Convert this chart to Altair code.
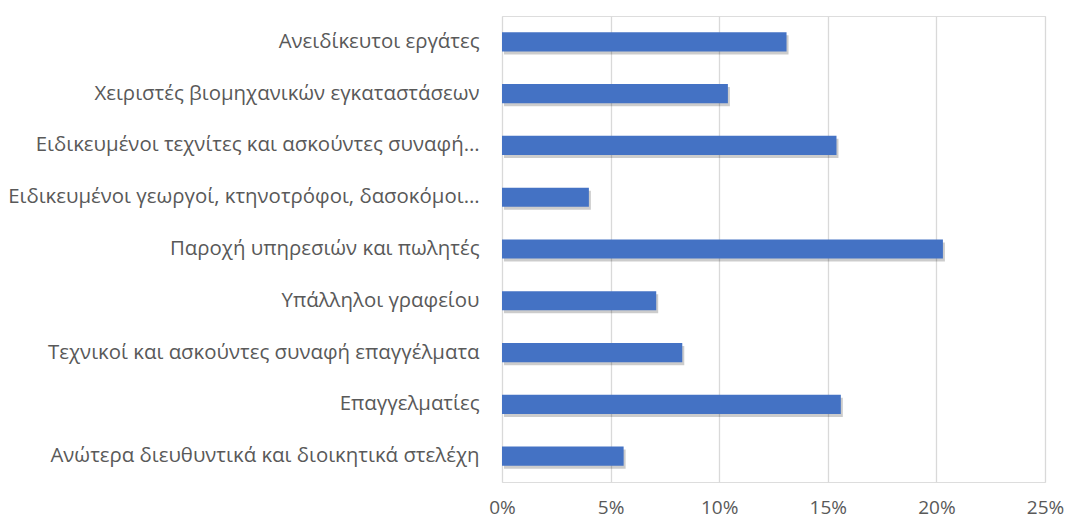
import altair as alt
import pandas as pd

categories = [
    "Ανειδίκευτοι εργάτες",
    "Χειριστές βιομηχανικών εγκαταστάσεων",
    "Ειδικευμένοι τεχνίτες και ασκούντες συναφή…",
    "Ειδικευμένοι γεωργοί, κτηνοτρόφοι, δασοκόμοι…",
    "Παροχή υπηρεσιών και πωλητές",
    "Υπάλληλοι γραφείου",
    "Τεχνικοί και ασκούντες συναφή επαγγέλματα",
    "Επαγγελματίες",
    "Ανώτερα διευθυντικά και διοικητικά στελέχη",
]
values = [0.131, 0.104, 0.154, 0.040, 0.203, 0.071, 0.083, 0.156, 0.056]
x_ticks = [0, 0.05, 0.10, 0.15, 0.20, 0.25]

df = pd.DataFrame({"cat": categories, "val": values})

FONT = "Open Sans"
x = alt.X("val:Q", scale=alt.Scale(domain=[0, 0.25], nice=False),
          axis=alt.Axis(values=x_ticks, format=".0%", title=None, grid=True,
                        gridColor="#d9d9d9", gridWidth=1.3, domain=False, ticks=False,
                        labelFont=FONT, labelFontSize=19, labelColor="#595959",
                        labelPadding=16, labelFlush=False, labelBound=False))
y = alt.Y("cat:N", sort=categories,
          scale=alt.Scale(paddingInner=0.63, paddingOuter=0.315),
          axis=alt.Axis(title=None, domain=False, ticks=False, labelFont=FONT,
                        labelFontSize=20.4, labelColor="#595959", labelPadding=23,
                        labelLimit=600))

base = alt.Chart(df).encode(x=x, y=y)
shadow = base.mark_bar(color="#000000", opacity=0.2, xOffset=2, yOffset=3)
bars = base.mark_bar(color="#4472C4")

chart = alt.layer(shadow, bars).properties(
    width=543, height=466,
    autosize=alt.AutoSizeParams(type="none"),
    padding={"left": 502, "top": 16, "right": 23, "bottom": 36},
).configure_view(strokeWidth=0).configure(background="white")

chart.save("out.html", embed_options={"renderer": "svg", "actions": False})
